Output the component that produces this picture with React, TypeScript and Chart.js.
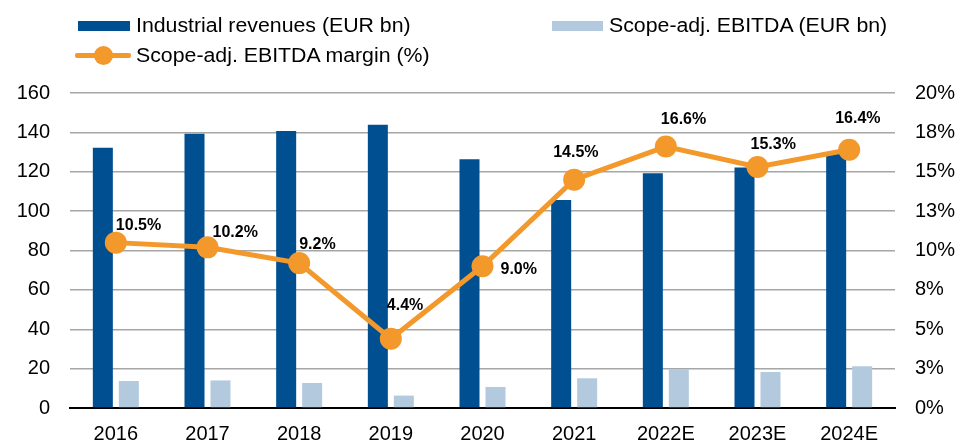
import React, { useEffect, useRef } from "react";
import { Chart, registerables } from "chart.js";

Chart.register(...registerables);

const categories = ["2016", "2017", "2018", "2019", "2020", "2021", "2022E", "2023E", "2024E"];
const revenues = [132.2, 139.3, 140.7, 143.9, 126.3, 105.6, 119.2, 122.2, 129];
const ebitda = [13.7, 14.0, 12.7, 6.3, 10.7, 15.1, 19.7, 18.3, 21.2];
const margin = [10.5, 10.2, 9.2, 4.4, 9.0, 14.5, 16.6, 15.3, 16.4];
const marginLabels = ["10.5%", "10.2%", "9.2%", "4.4%", "9.0%", "14.5%", "16.6%", "15.3%", "16.4%"];
// label placement offsets relative to point (text left edge dx, text middle dy)
const labelOffsets: [number, number][] = [
  [0, -17], [5, -15], [0, -19], [-4, -33], [18, 3], [-21, -27], [-5, -27], [-7, -22], [-14, -31],
];

const DARK = "#004F90";
const LIGHT = "#B3C9DD";
const ORANGE = "#F3982A";
const FONT = "'Liberation Sans', Arial, sans-serif";

const labelPlugin = {
  id: "marginLabels",
  afterDatasetsDraw(chart: any) {
    const meta = chart.getDatasetMeta(0);
    const ctx = chart.ctx;
    ctx.save();
    ctx.font = `bold 16px ${FONT}`;
    ctx.fillStyle = "#000";
    ctx.textAlign = "left";
    ctx.textBaseline = "middle";
    meta.data.forEach((pt: any, i: number) => {
      const [dx, dy] = labelOffsets[i];
      ctx.fillText(marginLabels[i], pt.x + dx, pt.y + dy);
    });
    ctx.restore();
  },
};

export default function App() {
  const ref = useRef<HTMLCanvasElement>(null);
  useEffect(() => {
    document.body.style.margin = "0";
    const chart = new Chart(ref.current!, {
      type: "bar",
      data: {
        labels: categories,
        datasets: [
          {
            type: "line",
            label: "Scope-adj. EBITDA margin (%)",
            data: margin,
            yAxisID: "y1",
            borderColor: ORANGE,
            backgroundColor: ORANGE,
            borderWidth: 5,
            pointRadius: 11,
            pointBackgroundColor: ORANGE,
            pointBorderWidth: 0,
            tension: 0,
            order: -1,
          } as any,
          {
            type: "bar",
            label: "Industrial revenues (EUR bn)",
            data: revenues,
            yAxisID: "y",
            backgroundColor: DARK,
            categoryPercentage: 0.567,
            barPercentage: 0.77,
            order: 1,
          },
          {
            type: "bar",
            label: "Scope-adj. EBITDA (EUR bn)",
            data: ebitda,
            yAxisID: "y",
            backgroundColor: LIGHT,
            categoryPercentage: 0.567,
            barPercentage: 0.77,
            order: 1,
          },
        ],
      },
      options: {
        animation: false,
        responsive: false,
        layout: { padding: { top: 93, left: 0, right: 0, bottom: 0 } },
        plugins: { legend: { display: false }, tooltip: { enabled: false } },
        scales: {
          x: {
            grid: { display: false },
            border: { display: true, color: "#000", width: 2 },
            ticks: { color: "#000", font: { family: FONT, size: 20 }, padding: 6 },
            afterFit: (s: any) => { s.height = 35; },
          },
          y: {
            position: "left",
            min: 0,
            max: 160,
            ticks: { stepSize: 20, color: "#000", font: { family: FONT, size: 20 }, padding: 20 },
            grid: {
              drawTicks: false,
              color: (c: any) => (c.tick && c.tick.value === 0 ? "rgba(0,0,0,0)" : "#A6A6A6"),
              lineWidth: 1.5,
            },
            border: { display: false },
            afterFit: (s: any) => { s.width = 70; },
          },
          y1: {
            position: "right",
            min: 0,
            max: 20,
            ticks: {
              stepSize: 2.5,
              color: "#000",
              font: { family: FONT, size: 20 },
              padding: 20,
              callback: (v: any) => Math.round(Number(v)) + "%",
            },
            grid: { display: false, drawTicks: false },
            border: { display: false },
            afterFit: (s: any) => { s.width = 65; },
          },
        },
      },
      plugins: [labelPlugin],
    });
    return () => chart.destroy();
  }, []);

  const textStyle: React.CSSProperties = {
    position: "absolute",
    fontFamily: FONT,
    fontSize: 20,
    lineHeight: "20px",
    color: "#000",
    whiteSpace: "nowrap",
    transform: "scaleX(1.065)",
    transformOrigin: "left center",
  };

  return (
    <div style={{ position: "relative", width: 960, height: 443 }}>
      <canvas ref={ref} width={960} height={443} style={{ display: "block" }} />
      <div style={{ position: "absolute", left: 78, top: 21, width: 52, height: 10, background: DARK }} />
      <div style={{ ...textStyle, left: 136, top: 15 }}>Industrial revenues (EUR bn)</div>
      <div style={{ position: "absolute", left: 552, top: 21, width: 51, height: 10, background: LIGHT }} />
      <div style={{ ...textStyle, left: 609, top: 15 }}>Scope-adj. EBITDA (EUR bn)</div>
      <div style={{ position: "absolute", left: 75, top: 53, width: 56, height: 5, background: ORANGE, borderRadius: 2 }} />
      <div style={{ position: "absolute", left: 94, top: 46, width: 19, height: 19, borderRadius: "50%", background: ORANGE }} />
      <div style={{ ...textStyle, left: 136, top: 45 }}>Scope-adj. EBITDA margin (%)</div>
    </div>
  );
}
